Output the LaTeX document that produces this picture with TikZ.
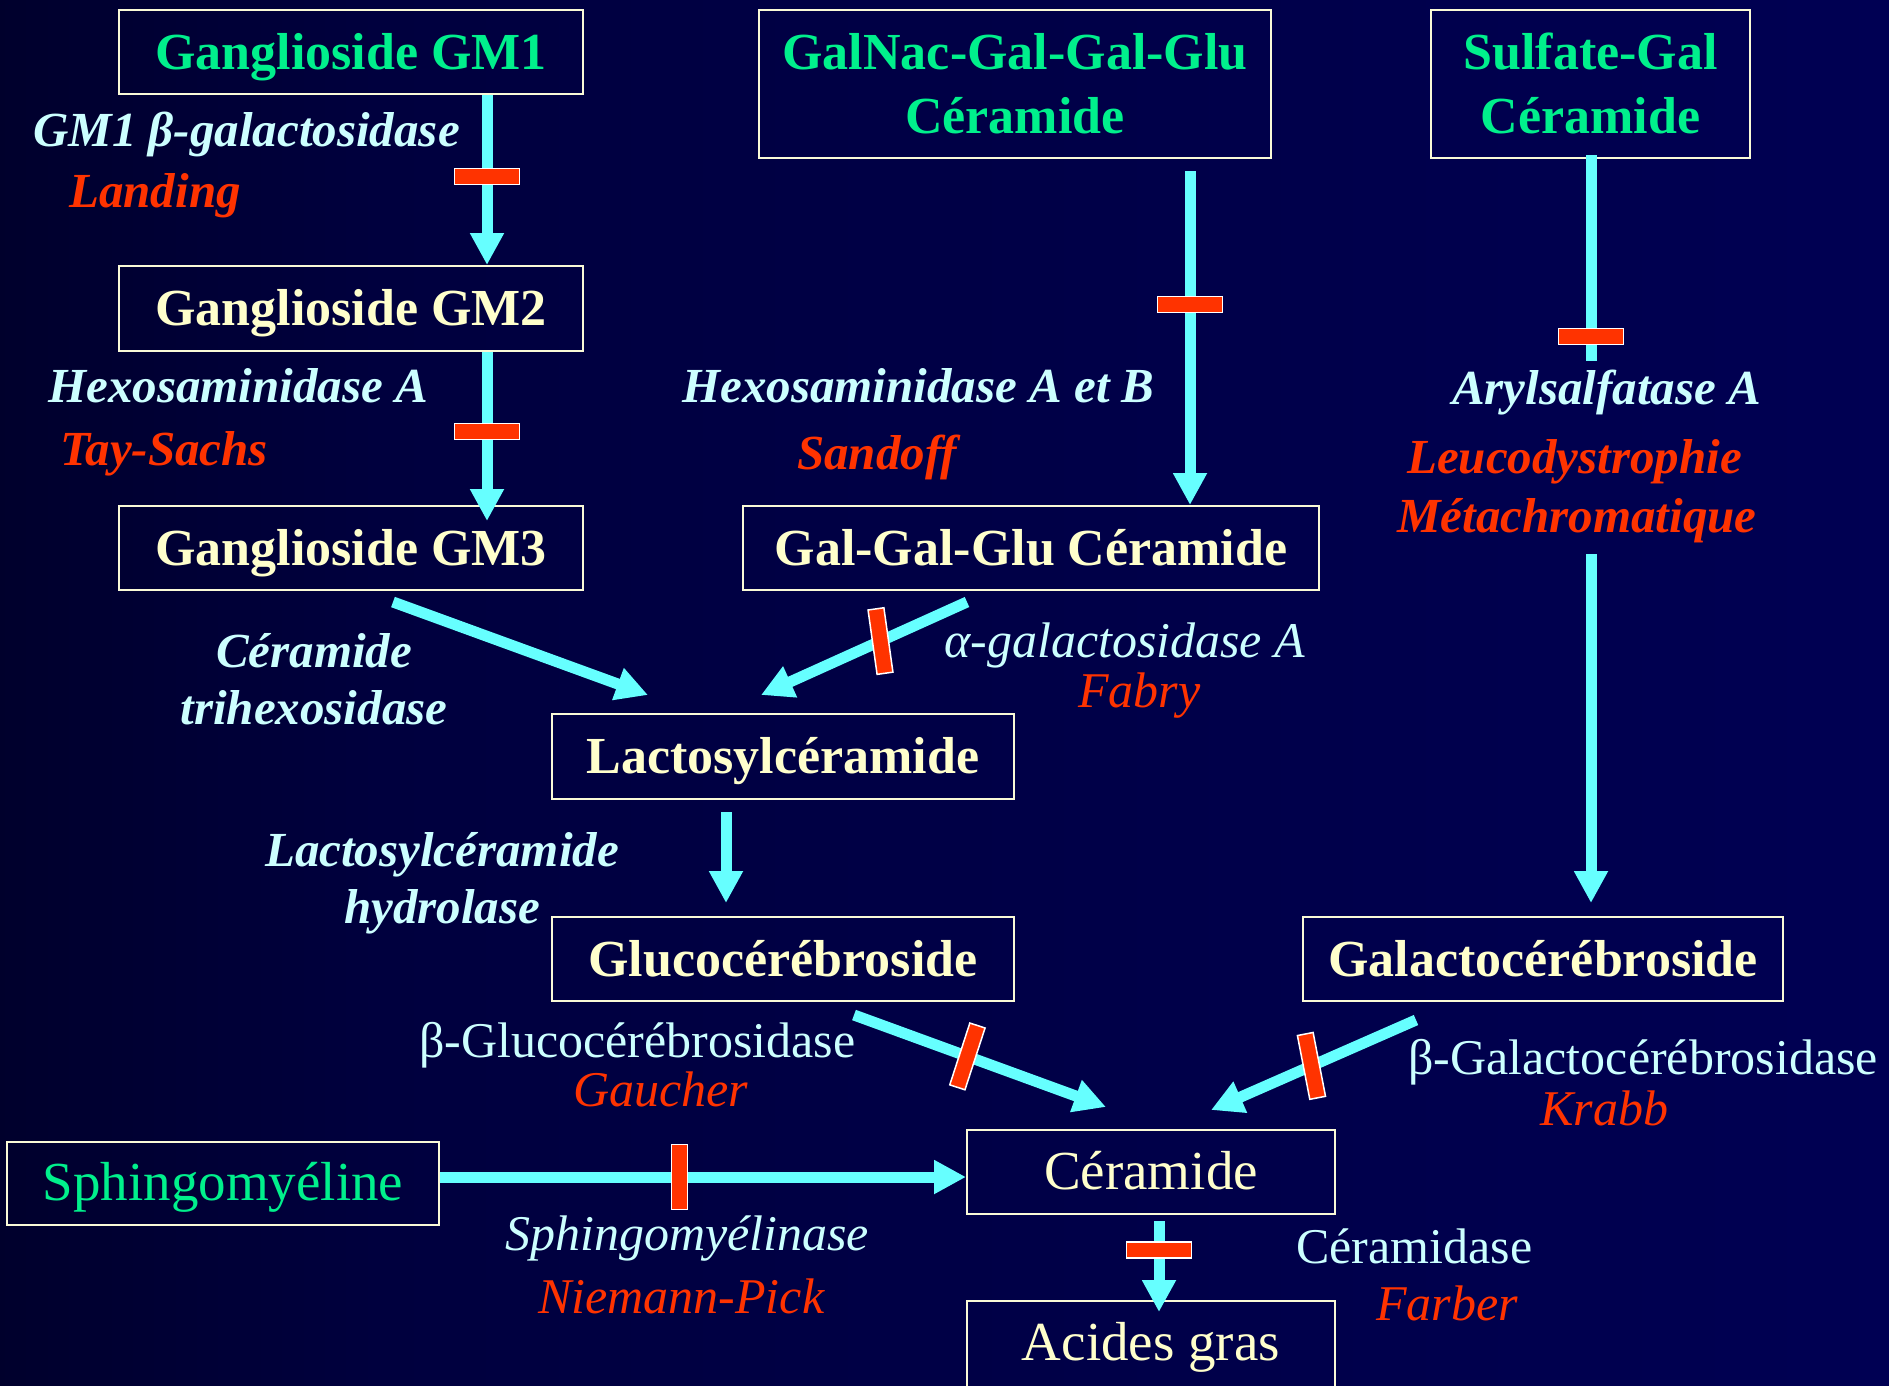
\documentclass[tikz,border=0pt]{standalone}
\usepackage{fontspec}
\setmainfont{Liberation Serif}
\usetikzlibrary{arrows.meta}
\definecolor{bgnavy}{RGB}{0,0,96}
\definecolor{bgmid}{RGB}{0,0,62}
\definecolor{arrcyan}{RGB}{102,255,255}
\definecolor{enzcol}{RGB}{204,255,255}
\definecolor{discol}{RGB}{255,51,0}
\definecolor{grn}{RGB}{0,240,140}
\definecolor{crm}{RGB}{255,255,204}
\definecolor{bord}{RGB}{250,250,215}
\pgfdeclarehorizontalshading{bgsh}{100bp}{color(0bp)=(black); color(35bp)=(bgmid); color(100bp)=(bgnavy)}
\begin{document}
\begin{tikzpicture}[x=1pt,y=-1pt,
  box/.style={draw=bord, line width=2pt, inner sep=0pt, text height=40pt, text depth=6pt,
    font=\fontsize{52}{64}\selectfont\bfseries, text=crm},
  boxtwo/.style={box, align=center, text height=104pt, text depth=6pt},
  tms/.style={font=\fontsize{55}{64}\selectfont},
  arrline/.style={draw=arrcyan, line width=11pt},
  arr/.style={arrline, -{Triangle[width=32pt,length=32pt]}},
  hbar/.style={fill=discol, draw=white, line width=1.5pt, inner sep=0pt, minimum width=65pt, minimum height=16pt},
  vbar/.style={hbar, minimum width=16pt, minimum height=65pt},
  egi/.style={text=enzcol, inner sep=0pt, font=\fontsize{49}{57}\selectfont\bfseries\itshape},
  dgi/.style={egi, text=discol},
  ei/.style={text=enzcol, inner sep=0pt, font=\fontsize{50}{58}\selectfont\itshape},
  di/.style={ei, text=discol},
  er/.style={text=enzcol, inner sep=0pt, font=\fontsize{50}{58}\selectfont},
]
\useasboundingbox (0,0) rectangle (1889,1385);
\clip (0,0) rectangle (1889,1385);
\shade[shading=bgsh] (0,0) rectangle (1889,1385);

% boxes
\node[box, text=grn, minimum width=464pt, minimum height=84pt] (gm1) at (351,52) {Ganglioside GM1};
\node[boxtwo, text=grn, minimum width=512pt, minimum height=148pt] (galnac) at (1015,84) {GalNac-Gal-Gal-Glu\\Céramide};
\node[boxtwo, text=grn, minimum width=319pt, minimum height=148pt] (sulf) at (1590.5,84) {Sulfate-Gal\\Céramide};
\node[box, minimum width=464pt, minimum height=85pt] (gm2) at (351,308.5) {Ganglioside GM2};
\node[box, minimum width=464pt, minimum height=84pt] (gm3) at (351,548) {Ganglioside GM3};
\node[box, minimum width=576pt, minimum height=84pt] (ggg) at (1031,548) {Gal-Gal-Glu Céramide};
\node[box, minimum width=462pt, minimum height=85pt] (lac) at (783,756.5) {Lactosylcéramide};
\node[box, minimum width=462pt, minimum height=84pt] (gluco) at (783,959) {Glucocérébroside};
\node[box, minimum width=480pt, minimum height=84pt] (galacto) at (1543,959) {Galactocérébroside};
\node[box, tms, text=grn, minimum width=432pt, minimum height=83pt] (sphingo) at (223,1183.5) {Sphingomyéline};
\node[box, tms, minimum width=368pt, minimum height=84pt] (cer) at (1151,1172) {Céramide};
\node[box, tms, minimum width=368pt, minimum height=100pt, text depth=22pt] (acides) at (1151,1351) {Acides gras};

\coordinate (s1) at (1591,361);
\coordinate (s2) at (1591,554);

% connectors
\draw[arr] ([xshift=136pt]gm1.south) -- node[hbar, pos=0.48] (b1) {} ([xshift=136pt]gm2.north);
\draw[arr] ([xshift=136pt]gm2.south) -- node[hbar, pos=0.47] (b2) {} ([xshift=136pt,yshift=-16pt]gm3.north);
\draw[arr] ([xshift=175pt,yshift=-12pt]galnac.south) -- node[hbar, pos=0.40] (b3) {} ([xshift=159pt]ggg.north);
\draw[arrline] ([xshift=0.5pt,yshift=4pt]sulf.south) -- node[hbar, pos=0.88] (b4) {} (s1);
\draw[arr] (s2) -- ([xshift=48pt,yshift=13pt]galacto.north);
\draw[arr] ([xshift=42pt,yshift=-11pt]gm3.south) -- ([xshift=-135pt,yshift=18pt]lac.north);
\draw[arr] ([xshift=-64pt,yshift=-11pt]ggg.south) -- node[vbar, pos=0.42, rotate=8] (b6) {} ([xshift=-22pt,yshift=18pt]lac.north);
\draw[arr] ([xshift=-57pt,yshift=-12pt]lac.south) -- ([xshift=-57pt,yshift=13pt]gluco.north);
\draw[arr] ([xshift=71pt,yshift=-13pt]gluco.south) -- node[vbar, pos=0.45, rotate=-18] (b8) {} ([xshift=-45pt,yshift=22pt]cer.north);
\draw[arr] ([xshift=-127pt,yshift=-18pt]galacto.south) -- node[vbar, pos=0.51, rotate=11] (b9) {} ([xshift=60pt,yshift=19pt]cer.north);
\draw[arr] ([yshift=6.5pt]sphingo.east) -- node[vbar, pos=0.455] (b10) {} ([yshift=-5pt]cer.west);
\draw[arr] ([xshift=8pt,yshift=-6pt]cer.south) -- node[hbar, pos=0.32] (b11) {} ([xshift=8pt,yshift=-12pt]acides.north);

% labels
\node[egi, anchor=base west] (t1) at (33,146) {GM1 β-galactosidase};
\node[dgi, anchor=base west] (t2) at (69,207) {Landing};
\node[egi, anchor=base west] (t3) at (48,402) {Hexosaminidase A};
\node[dgi, anchor=base west] (t4) at (60,465) {Tay-Sachs};
\node[egi, anchor=base west] (t5) at (682,402) {Hexosaminidase A et B};
\node[dgi, anchor=base west] (t6) at (797,469) {Sandoff};
\node[egi, anchor=base west] (t7) at (1452,404) {Arylsalfatase A};
\node[dgi, anchor=base west] (t8) at (1407,473) {Leucodystrophie};
\node[dgi, anchor=base west] (t9) at (1397,532) {Métachromatique};
\node[egi, anchor=base] (t10a) at (314,667) {Céramide};
\node[egi, anchor=base] (t10b) at (314,724) {trihexosidase};
\node[egi, anchor=base] (t11a) at (442,866) {Lactosylcéramide};
\node[egi, anchor=base] (t11b) at (442,923) {hydrolase};
\node[ei, anchor=base west] (t12) at (944,657) {α-galactosidase A};
\node[di, anchor=base west] (t13) at (1078,707) {Fabry};
\node[er, anchor=base west] (t14) at (419,1057) {β-Glucocérébrosidase};
\node[di, anchor=base west] (t15) at (573,1106) {Gaucher};
\node[er, anchor=base west] (t16) at (1408,1074) {β-Galactocérébrosidase};
\node[di, anchor=base west] (t17) at (1540,1125) {Krabb};
\node[ei, anchor=base west] (t18) at (505,1250) {Sphingomyélinase};
\node[di, anchor=base west] (t19) at (538,1313) {Niemann-Pick};
\node[er, anchor=base west] (t20) at (1296,1263) {Céramidase};
\node[di, anchor=base west] (t21) at (1376,1320) {Farber};
\end{tikzpicture}
\end{document}
